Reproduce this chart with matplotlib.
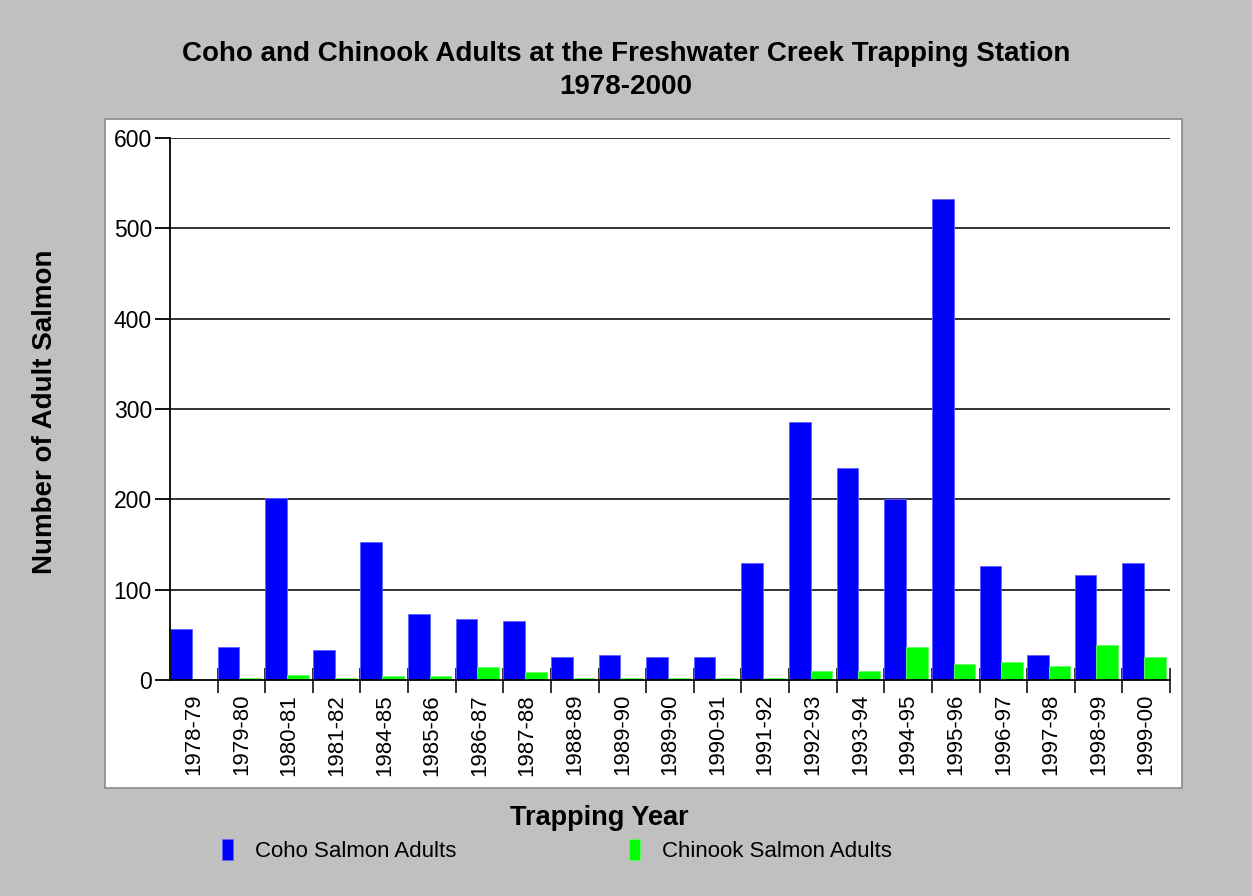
import matplotlib.pyplot as plt
from matplotlib.patches import Rectangle
import numpy as np

plt.rcParams['font.family'] = ['Liberation Sans', 'DejaVu Sans']

# trapping seasons (the 1989-90 label shows up twice in the original chart)
seasons = ['1978-79', '1979-80', '1980-81', '1981-82', '1984-85', '1985-86',
           '1986-87', '1987-88', '1988-89', '1989-90', '1989-90', '1990-91',
           '1991-92', '1992-93', '1993-94', '1994-95', '1995-96', '1996-97',
           '1997-98', '1998-99', '1999-00']
coho = [57, 36, 202, 33, 153, 73, 68, 65, 25, 28, 26, 26,
        130, 286, 235, 200, 532, 126, 28, 116, 129]
chinook = [0, 2, 5, 2, 4, 4, 14, 9, 2, 2, 2, 2,
           2, 10, 10, 37, 18, 20, 16, 39, 26]
y_ticks = [0, 100, 200, 300, 400, 500, 600]

W, H = 1252, 896
fig = plt.figure(figsize=(W / 100, H / 100), dpi=100)
fig.patch.set_facecolor('#C0C0C0')

# white panel behind the plot
panel = Rectangle((105 / W, 1 - 788 / H), (1182 - 105) / W, (788 - 119) / H,
                  transform=fig.transFigure, facecolor='white',
                  edgecolor='#8a8a8a', linewidth=1.2, zorder=-5)
fig.patches.append(panel)

ax = fig.add_axes([170 / W, 1 - 680 / H, 1000 / W, 542 / H])
ax.set_facecolor('none')

n = len(seasons)
x = np.arange(n)
bw = 0.455
ax.bar(x, coho, width=bw, align='edge', color='#0000FF', edgecolor='#6060FF',
       linewidth=0.6, label='Coho Salmon Adults', zorder=3)
ax.bar(x + bw, chinook, width=bw, align='edge', color='#00FF00',
       edgecolor='#60FF60', linewidth=0.6, label='Chinook Salmon Adults', zorder=3)

ax.set_xlim(0, n)
ax.set_ylim(0, 600)

# grid lines
for v in y_ticks[1:]:
    ax.axhline(v, color='#222222', linewidth=1.3, zorder=2)

for s in ['top', 'right']:
    ax.spines[s].set_visible(False)
ax.spines['left'].set_linewidth(1.3)
ax.spines['bottom'].set_linewidth(1.3)
ax.spines['left'].set_zorder(4)
ax.spines['bottom'].set_zorder(4)

ax.set_yticks(y_ticks)
ax.tick_params(axis='y', direction='out', length=11, width=1.3,
               labelsize=16.5, pad=2)

ax.set_xticks(x + 0.5)
ax.set_xticklabels(seasons, rotation=90, fontsize=16)
ax.tick_params(axis='x', which='major', length=0, pad=10)
ax.set_xticks(np.arange(1, n + 1), minor=True)
ax.tick_params(axis='x', which='minor', direction='inout', length=18,
               width=1.3, color='#222222')

fig.text(0.5, 1 - 54 / H, 'Coho and Chinook Adults at the Freshwater Creek Trapping Station',
         ha='center', va='center', fontsize=20, fontweight='bold')
fig.text(0.5, 1 - 87 / H, '1978-2000', ha='center', va='center',
         fontsize=20, fontweight='bold')
fig.text(45 / W, 1 - 412 / H, 'Number of Adult Salmon', rotation=90,
         ha='center', va='center', fontsize=20, fontweight='bold')
fig.text(599 / W, 1 - 818 / H, 'Trapping Year', ha='center', va='center',
         fontsize=19.5, fontweight='bold')

fig.legend(loc='upper left', bbox_to_anchor=(222 / W, 1 - 839 / H),
           ncol=2, frameon=False, fontsize=16, handlelength=0.5,
           handleheight=1.1, handletextpad=1.0, columnspacing=7.75,
           borderpad=0, borderaxespad=0)

fig.savefig('out.png', dpi=100, facecolor=fig.get_facecolor())
